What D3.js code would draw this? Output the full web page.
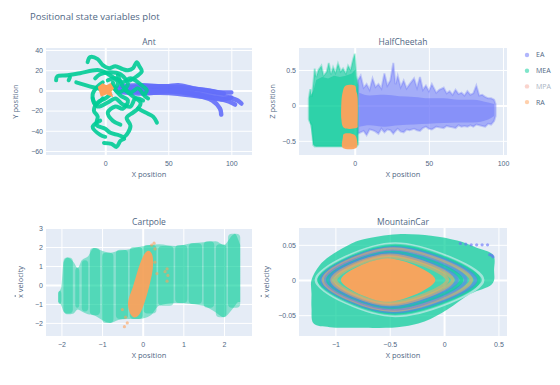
<!DOCTYPE html>
<html>
<head>
<meta charset="utf-8">
<script src="https://cdn.jsdelivr.net/npm/d3@7"></script>
<style>
  body { margin: 0; background: #fff; }
  svg { font-family: 'Open Sans', 'Noto Sans', sans-serif; }
</style>
</head>
<body>
<svg id="chart" width="560" height="385"></svg>
<script>
// ---- data ----
const seriesNames = ['EA', 'MEA', 'MPA', 'RA']
const seriesColors = { EA: '#636efa', MEA: '#00cc96', MPA: '#EF553B', RA: '#FFA15A' }
const hiddenSeries = ['MPA']

// Ant: trajectories (x, y)
const antEA = [
  [[10, 2], [30, 0], [50, 2], [65, 0], [80, -3], [95, -6], [105, -10], [108, -13]],
  [[10, -1], [30, -3], [50, -1], [70, -4], [85, -10], [91, -18], [92, -24]],
  [[20, 3], [40, 4], [60, 3], [75, 1], [90, -2], [100, -2]],
  [[15, 0], [35, -2], [55, -3], [75, -6], [90, -8], [98, -11], [103, -14]],
  [[25, 1], [45, 0], [62, -1], [78, -5], [92, -9], [100, -7]],
  [[12, 4], [30, 5], [48, 4], [58, 5], [70, 2], [82, 0], [94, -3]]
]
const antMEA = [
  [[-39, 10], [-38, 14], [-30, 15], [-20, 17], [-5, 20], [5, 14], [10, 8], [8, 2]],
  [[-29, 10], [-28, 13]],
  [[-23, 8], [-15, 5], [-6, 2], [0, 0]],
  [[-14, 28], [-12, 33], [-6, 31], [-2, 25], [3, 22], [8, 24], [14, 21], [18, 20], [22, 22], [25, 28], [27, 24], [29, 19], [25, 14], [20, 10]],
  [[2, 10], [8, 12], [14, 8], [20, 12], [26, 8], [30, 4], [33, 0], [31, -5], [34, -8]],
  [[4, -4], [0, -8], [-6, -12], [-9, -20], [-6, -26], [-7, -34], [0, -38], [4, -42], [10, -44], [15, -46], [18, -42], [20, -35], [17, -27], [22, -22], [26, -18], [28, -12], [22, -6], [16, 0]],
  [[26, -18], [32, -22], [38, -26], [41, -32]],
  [[-1, -52], [5, -53], [9, -56], [12, -50], [15, -48]],
  [[-2, -8], [-8, -14], [-10, -4], [-6, 4], [-2, 8]],
  [[5, 5], [12, -5], [18, -10], [14, -18], [8, -16], [2, -22], [6, -30], [12, -34]],
  [[10, 15], [14, 4], [20, -2], [26, 2], [30, -4]],
  [[-8, 12], [-4, 16], [4, 18], [12, 16], [18, 6], [10, -2], [6, 8]],
  [[-10, -8], [-6, -16], [2, -12], [8, -8], [14, -14], [20, -16], [24, -8], [30, -10]],
  [[-4, -30], [-10, -36], [-4, -44], [0, -46]]
]
const antRA = [[-5, 3], [-2, 6], [1, 4], [4, 6], [6, 2], [4, -1], [5, -5], [1, -3], [-3, -5], [-4, -1]]

// HalfCheetah: envelope columns (x, top, bottom), full spread and dense core
const cheetahMEA = [
  [-31, 0.10, -0.20], [-30, 0.23, -0.25], [-29, 0.12, -0.28], [-28, 0.30, -0.56],
  [-27, 0.52, -0.58], [-26, 0.40, -0.58], [-24.5, 0.50, -0.58], [-22.5, 0.56, -0.58],
  [-21, 0.42, -0.58], [-19, 0.47, -0.58], [-17.5, 0.60, -0.58], [-16, 0.44, -0.58],
  [-14.6, 0.54, -0.58], [-13, 0.46, -0.58], [-11.3, 0.59, -0.58], [-9.5, 0.48, -0.58],
  [-7.9, 0.52, -0.58], [-6, 0.45, -0.58], [-4.5, 0.56, -0.58], [-2.8, 0.50, -0.58],
  [-1.1, 0.65, -0.58], [0, 0.73, -0.58], [1.1, 0.42, -0.58], [2.3, 0.28, -0.55]
]
const cheetahMEACore = [
  [-30.5, 0.12, -0.2], [-28, 0.2, -0.55], [-26, 0.36, -0.58], [-22, 0.40, -0.58], [-18, 0.38, -0.58],
  [-14, 0.42, -0.58], [-10, 0.40, -0.58], [-6, 0.42, -0.58], [-2, 0.45, -0.58], [0, 0.5, -0.58], [2, 0.22, -0.52]
]
const cheetahEA = [
  [2, 0.35, -0.40], [4, 0.42, -0.38], [6, 0.25, -0.36], [8, 0.30, -0.42], [10, 0.22, -0.34],
  [12, 0.38, -0.35], [14, 0.26, -0.37], [16, 0.30, -0.40], [18, 0.24, -0.33], [20, 0.45, -0.38],
  [22, 0.28, -0.34], [24, 0.35, -0.35], [26, 0.60, -0.40], [27.5, 0.30, -0.36], [29, 0.42, -0.33],
  [31, 0.26, -0.37], [33, 0.35, -0.38], [35, 0.24, -0.34], [37, 0.30, -0.35], [40, 0.38, -0.33],
  [42, 0.25, -0.35], [44, 0.40, -0.36], [46, 0.22, -0.32], [48, 0.28, -0.30], [50, 0.20, -0.33],
  [52, 0.30, -0.34], [55, 0.18, -0.30], [57, 0.22, -0.31], [60, 0.25, -0.32], [62, 0.17, -0.29],
  [64, 0.20, -0.30], [66, 0.15, -0.31], [68, 0.22, -0.32], [70, 0.16, -0.28], [72, 0.18, -0.30],
  [74, 0.14, -0.29], [76, 0.20, -0.30], [78, 0.15, -0.28], [80, 0.17, -0.30], [82, 0.28, -0.27],
  [84, 0.14, -0.28], [86, 0.15, -0.29], [88, 0.12, -0.30], [90, 0.10, -0.26], [92, 0.10, -0.27],
  [94, 0.08, -0.22], [95, 0.02, -0.15]
]
const cheetahEACore = [
  [3, 0.18, -0.3], [10, 0.14, -0.28], [20, 0.15, -0.3], [30, 0.13, -0.28], [40, 0.12, -0.27],
  [50, 0.1, -0.26], [60, 0.1, -0.25], [70, 0.08, -0.24], [80, 0.08, -0.24], [90, 0.04, -0.2], [94, 0.02, -0.15]
]
const cheetahRA = [
  [[-6, 0.28], [0, 0.28], [1, 0.2], [2, 0.1], [2, -0.25], [1, -0.32], [-7, -0.32], [-9, -0.2], [-9, 0.05], [-8, 0.2]],
  [[-7, -0.40], [-2, -0.40], [1, -0.45], [1, -0.60], [-8, -0.60], [-8, -0.45]]
]

// Cartpole: MEA spread (x, top, bottom) and column clusters (x0, x1, top, bottom)
const cartMEAHull = [
  [-2.08, -0.4, -0.9], [-2.0, -0.1, -1.1], [-1.95, 1.2, -1.4], [-1.85, 1.45, -1.55], [-1.7, 1.2, -1.5],
  [-1.6, 0.9, -1.3], [-1.5, 1.3, -1.4], [-1.35, 1.5, -1.55], [-1.2, 1.95, -1.6], [-1.0, 1.8, -1.85],
  [-0.8, 1.7, -2.0], [-0.6, 1.8, -1.85], [-0.4, 1.85, -1.8], [-0.1, 2.0, -1.8], [0.2, 2.1, -1.6],
  [0.4, 2.15, -1.1], [0.8, 2.05, -0.95], [1.2, 2.2, -1.0], [1.5, 2.25, -1.1], [1.8, 2.3, -1.45],
  [2.0, 2.1, -1.7], [2.2, 2.6, -1.3], [2.27, 2.7, -1.1], [2.35, 2.4, -0.9], [2.4, 2.1, -0.9]
]
const cartMEA = [
  [-2.08, -2.0, -0.3, -1.0], [-1.95, -1.72, 1.45, -1.5], [-1.66, -1.56, 0.9, -1.2],
  [-1.5, -1.34, 1.3, -1.4], [-1.3, -1.05, 1.95, -1.6], [-1.0, -0.72, 1.7, -2.0],
  [-0.66, -0.36, 1.85, -1.8], [-0.32, 0.0, 2.0, -1.8], [0.02, 0.34, 2.1, -1.5],
  [0.38, 0.76, 2.05, -1.1], [0.8, 1.1, 2.1, -0.95], [1.13, 1.46, 2.2, -1.0],
  [1.5, 1.76, 2.3, -1.2], [1.8, 2.06, 2.15, -1.7], [2.1, 2.4, 2.7, -1.2]
]
const cartRA = [[-0.36, -1.1], [-0.3, -1.55], [-0.2, -1.72], [-0.08, -1.55], [0.05, -0.9], [0.18, 0.1], [0.25, 0.9], [0.24, 1.55], [0.14, 1.8], [0.02, 1.55], [-0.1, 0.9], [-0.24, -0.1], [-0.34, -0.7]]
const cartRAStray = [[0.22, 2.1], [0.28, 2.2], [0.3, 1.9], [0.6, 0.85], [0.62, 0.5], [0.6, 0.2], [-0.45, -2.2], [-0.38, -2.0], [-0.5, -1.3], [0.3, 1.2], [0.35, 0.6], [0.55, 0.7], [-0.42, -1.7]]

// MountainCar: outer MEA hull (x, v) and orbits (xLeft, xRight, xMid, vTop, vBottom)
const carMEAHull = [
  [-1.22, 0.0], [-1.15, 0.02], [-1.05, 0.034], [-0.9, 0.048], [-0.74, 0.058], [-0.43, 0.065],
  [-0.12, 0.063], [0.12, 0.056], [0.3, 0.046], [0.45, 0.036], [0.46, 0.015], [0.44, -0.006],
  [0.24, -0.02], [0.03, -0.042], [-0.18, -0.059], [-0.43, -0.067], [-0.8, -0.068],
  [-1.05, -0.067], [-1.2, -0.062], [-1.22, -0.04], [-1.22, -0.02]
]
const carOrbits = [
  ['white', -1.18, 0.36, -0.45, 0.052, -0.051],
  ['MEA', -1.15, 0.32, -0.45, 0.049, -0.048],
  ['EA', -1.13, 0.29, -0.46, 0.046, -0.045],
  ['RA', -1.11, 0.25, -0.47, 0.044, -0.043],
  ['EA', -1.09, 0.2, -0.47, 0.041, -0.041],
  ['MEA', -1.07, 0.16, -0.48, 0.039, -0.039],
  ['EA', -1.05, 0.12, -0.5, 0.037, -0.037],
  ['RA', -1.03, 0.08, -0.5, 0.035, -0.035],
  ['RA', -1.0, 0.03, -0.51, 0.033, -0.033]
]
const carRACore = [-0.95, -0.08, -0.52, 0.031, -0.031]
const carEAStray = [[0.15, 0.052], [0.2, 0.051], [0.25, 0.05], [0.3, 0.05], [0.35, 0.05], [0.4, 0.05], [0.42, 0.036], [0.44, 0.035], [0.45, 0.033]]

// ---- layout ----
const svg = d3.select('#chart')
const textColor = '#506784'

svg.append('text')
  .attr('x', 30).attr('y', 20)
  .attr('font-size', 9.5).attr('fill', textColor)
  .text('Positional state variables plot')

const panels = [
  { id: 'ant', title: 'Ant', box: [46, 48, 252, 155], xd: [-47, 116.4], yd: [-64, 42],
    xt: [0, 50, 100], yt: [-60, -40, -20, 0, 20, 40], xl: 'X position', yl: 'Y position', dot: false, ylx: 15 },
  { id: 'cheetah', title: 'HalfCheetah', box: [299, 48, 507, 155], xd: [-37.6, 102.7], yd: [-0.70, 0.81],
    xt: [0, 50, 100], yt: [-0.5, 0, 0.5], xl: 'X position', yl: 'Z position', dot: false, ylx: 272 },
  { id: 'cart', title: 'Cartpole', box: [46, 228, 252, 336], xd: [-2.38, 2.69], yd: [-2.69, 3.0],
    xt: [-2, -1, 0, 1, 2], yt: [-2, -1, 0, 1, 2, 3], xl: 'X position', yl: 'x velocity', dot: true, ylx: 20 },
  { id: 'car', title: 'MountainCar', box: [299, 228, 507, 336], xd: [-1.335, 0.579], yd: [-0.0796, 0.0739],
    xt: [-1, -0.5, 0, 0.5], yt: [-0.05, 0, 0.05], xl: 'X position', yl: 'x velocity', dot: true, ylx: 266 }
]

const fmt = d3.format('~g')
const P = {}

panels.forEach(p => {
  let [x0, y0, x1, y1] = p.box
  let w = x1 - x0
  let h = y1 - y0
  let x = d3.scaleLinear().domain(p.xd).range([0, w])
  let y = d3.scaleLinear().domain(p.yd).range([h, 0])
  let g = svg.append('g').attr('transform', `translate(${x0},${y0})`)

  g.append('rect').attr('width', w).attr('height', h).attr('fill', '#e5ecf6')

  let gx = g.append('g').attr('transform', `translate(0,${h})`)
    .call(d3.axisBottom(x).tickValues(p.xt).tickSize(h).tickPadding(5).tickFormat(fmt))
  gx.selectAll('line').attr('transform', `translate(0,${-h})`)
  gx.selectAll('text').attr('y', 6)
  let gy = g.append('g')
    .call(d3.axisLeft(y).tickValues(p.yt).tickSize(-w).tickPadding(3).tickFormat(fmt))
  ;[gx, gy].forEach(ax => {
    ax.select('.domain').remove()
    ax.selectAll('line').attr('stroke', '#fff').attr('stroke-width', d => d === 0 ? 2 : 1)
    ax.selectAll('text').attr('fill', textColor).attr('font-size', 7).attr('font-family', null)
  })

  g.append('clipPath').attr('id', `clip-${p.id}`)
    .append('rect').attr('width', w).attr('height', h)
  let plot = g.append('g').attr('clip-path', `url(#clip-${p.id})`)

  svg.append('text')
    .attr('x', x0 + w / 2).attr('y', y0 - 3)
    .attr('text-anchor', 'middle').attr('font-size', 8.5).attr('fill', textColor)
    .text(p.title)
  svg.append('text')
    .attr('x', x0 + w / 2).attr('y', y1 + 22)
    .attr('text-anchor', 'middle').attr('font-size', 7.5).attr('fill', textColor)
    .text(p.xl)
  let yg = svg.append('g')
    .attr('transform', `translate(${p.ylx},${y0 + h / 2}) rotate(-90)`)
  let yl = yg.append('text')
    .attr('text-anchor', 'middle').attr('dy', '0.35em').attr('font-size', 7.5).attr('fill', textColor)
    .text(p.yl)
  if (p.dot) {
    // dot accent over the leading x (ẋ)
    let bb = yl.node().getBBox()
    yg.append('circle')
      .attr('cx', bb.x + 2.1).attr('cy', bb.y + 0.6).attr('r', 0.75)
      .attr('fill', textColor)
  }

  P[p.id] = { x, y, plot }
})

// ---- Ant ----
{
  let { x, y, plot } = P.ant
  let line = d3.line().x(d => x(d[0])).y(d => y(d[1])).curve(d3.curveCatmullRom)
  plot.selectAll('.ea').data(antEA).join('path')
    .attr('d', line).attr('fill', 'none').attr('stroke', seriesColors.EA)
    .attr('stroke-width', 4.5).attr('stroke-linecap', 'round').attr('stroke-linejoin', 'round')
    .attr('stroke-opacity', 0.9)
  plot.selectAll('.mea').data(antMEA).join('path')
    .attr('d', line).attr('fill', 'none').attr('stroke', seriesColors.MEA)
    .attr('stroke-width', 4).attr('stroke-linecap', 'round').attr('stroke-linejoin', 'round')
    .attr('stroke-opacity', 0.9)
  plot.append('path').datum(antRA)
    .attr('d', d3.line().x(d => x(d[0])).y(d => y(d[1])).curve(d3.curveLinearClosed))
    .attr('fill', seriesColors.RA).attr('stroke', seriesColors.RA).attr('stroke-width', 2)
}

// ---- HalfCheetah ----
{
  let { x, y, plot } = P.cheetah
  let area = d3.area().x(d => x(d[0])).y0(d => y(d[2])).y1(d => y(d[1]))
  plot.append('path').datum(cheetahEA).attr('d', area)
    .attr('fill', seriesColors.EA).attr('fill-opacity', 0.5)
    .attr('stroke', seriesColors.EA).attr('stroke-opacity', 0.3).attr('stroke-width', 2)
  plot.append('path').datum(cheetahEACore).attr('d', area.curve(d3.curveMonotoneX))
    .attr('fill', seriesColors.EA).attr('fill-opacity', 0.45)
  area.curve(d3.curveLinear)
  plot.append('path').datum(cheetahMEA).attr('d', area)
    .attr('fill', seriesColors.MEA).attr('fill-opacity', 0.6)
    .attr('stroke', seriesColors.MEA).attr('stroke-opacity', 0.3).attr('stroke-width', 2)
  plot.append('path').datum(cheetahMEACore).attr('d', area)
    .attr('fill', seriesColors.MEA).attr('fill-opacity', 0.5)
  plot.selectAll('.ra').data(cheetahRA).join('path')
    .attr('d', d3.line().x(d => x(d[0])).y(d => y(d[1])).curve(d3.curveCardinalClosed))
    .attr('fill', seriesColors.RA).attr('fill-opacity', 0.95)
}

// ---- Cartpole ----
{
  let { x, y, plot } = P.cart
  plot.append('path').datum(cartMEAHull)
    .attr('d', d3.area().x(d => x(d[0])).y0(d => y(d[2])).y1(d => y(d[1])).curve(d3.curveMonotoneX))
    .attr('fill', seriesColors.MEA).attr('fill-opacity', 0.42)
  plot.selectAll('.mea').data(cartMEA).join('rect')
    .attr('x', d => x(d[0])).attr('width', d => x(d[1]) - x(d[0]))
    .attr('y', d => y(d[2])).attr('height', d => y(d[3]) - y(d[2]))
    .attr('rx', 4)
    .attr('fill', seriesColors.MEA).attr('fill-opacity', 0.38)
  plot.append('path').datum(cartRA)
    .attr('d', d3.line().x(d => x(d[0])).y(d => y(d[1])).curve(d3.curveCardinalClosed))
    .attr('fill', seriesColors.RA).attr('fill-opacity', 0.92)
  plot.selectAll('.ras').data(cartRAStray).join('circle')
    .attr('cx', d => x(d[0])).attr('cy', d => y(d[1])).attr('r', 1.6)
    .attr('fill', seriesColors.RA).attr('fill-opacity', 0.6)
}

// ---- MountainCar ----
{
  let { x, y, plot } = P.car
  plot.append('path').datum(carMEAHull)
    .attr('d', d3.line().x(d => x(d[0])).y(d => y(d[1])).curve(d3.curveCardinalClosed))
    .attr('fill', seriesColors.MEA).attr('fill-opacity', 0.7)
  let orbitPts = o => [[o[0], 0], [o[2], o[3]], [o[1], 0], [o[2], o[4]]]
  let orbit = d3.line().x(d => x(d[0])).y(d => y(d[1])).curve(d3.curveCardinalClosed)
  plot.selectAll('.orb').data(carOrbits).join('path')
    .attr('d', d => orbit(orbitPts(d.slice(1))))
    .attr('fill', 'none')
    .attr('stroke', d => d[0] === 'white' ? '#eef3fa' : seriesColors[d[0]])
    .attr('stroke-opacity', d => d[0] === 'white' ? 0.55 : 0.5)
    .attr('stroke-width', d => d[0] === 'white' ? 2.5 : 3.5)
  plot.append('path').datum(orbitPts(carRACore))
    .attr('d', orbit)
    .attr('fill', seriesColors.RA).attr('fill-opacity', 0.95)
  plot.selectAll('.eas').data(carEAStray).join('circle')
    .attr('cx', d => x(d[0])).attr('cy', d => y(d[1])).attr('r', 1.6)
    .attr('fill', seriesColors.EA).attr('fill-opacity', 0.6)
}

// ---- legend ----
const legend = svg.append('g')
seriesNames.forEach((name, i) => {
  let hidden = hiddenSeries.includes(name)
  let row = legend.append('g').attr('transform', `translate(527,${55 + i * 15.7})`)
    .attr('opacity', hidden ? 0.5 : 1)
  row.append('circle').attr('r', 2.2).attr('fill', seriesColors[name]).attr('fill-opacity', 0.5)
  row.append('text').attr('x', 9).attr('dy', '0.35em')
    .attr('font-size', 7).attr('fill', textColor).text(name)
})
</script>
</body>
</html>
